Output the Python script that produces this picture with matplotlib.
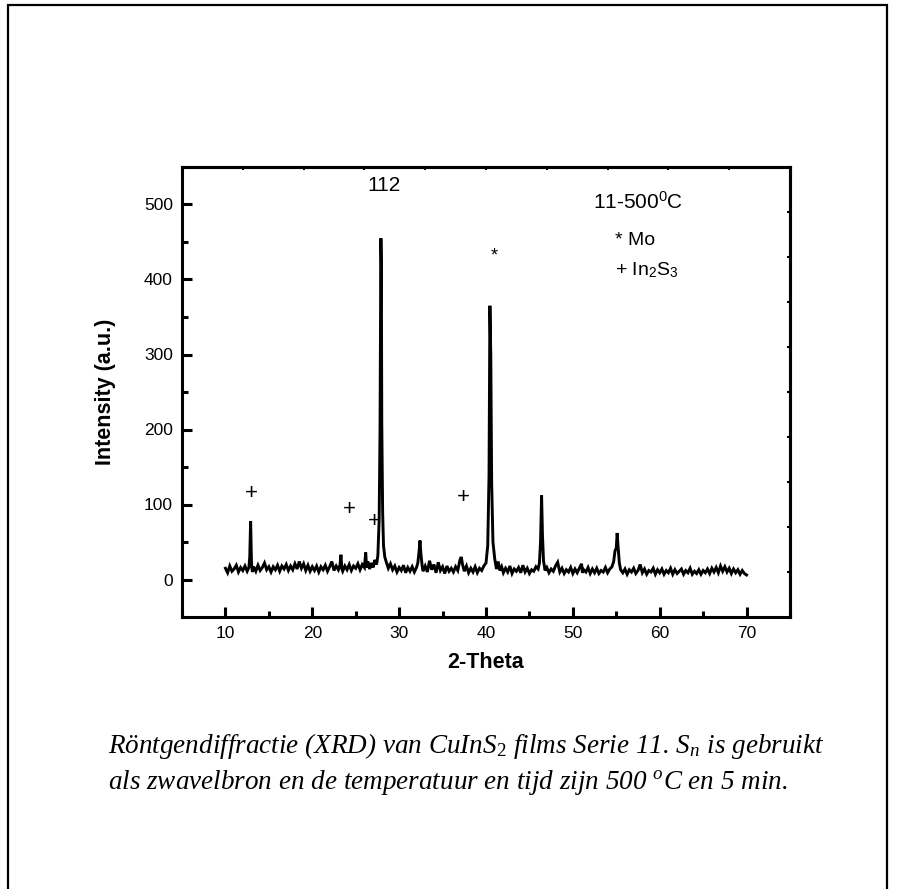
import matplotlib
matplotlib.use("Agg")
import matplotlib.pyplot as plt
import matplotlib.patches as mpatches
from matplotlib.ticker import MultipleLocator

plt.rcParams['font.family'] = ['Liberation Sans', 'DejaVu Sans']
plt.rcParams['mathtext.fontset'] = 'custom'
plt.rcParams['mathtext.it'] = 'Liberation Serif:italic'
plt.rcParams['mathtext.rm'] = 'Liberation Serif'
plt.rcParams['mathtext.sf'] = 'Liberation Sans'

# XRD scan (2-theta in degrees, intensity in a.u.)
two_theta = [
    10.0, 10.25, 10.5, 10.75, 11.0, 11.25, 11.5, 11.75, 12.0, 12.25, 12.5,
    12.7, 12.8, 12.9, 13.0, 13.1,
    13.25, 13.5, 13.75, 14.0, 14.25, 14.5, 14.75, 15.0,
    15.25, 15.5, 15.75, 16.0, 16.25, 16.5, 16.75, 17.0, 17.25, 17.5,
    17.75, 18.0, 18.25, 18.5, 18.75, 19.0, 19.25, 19.5, 19.75, 20.0,
    20.25, 20.5, 20.75, 21.0, 21.25, 21.5, 21.75, 22.0, 22.25, 22.5, 22.75, 23.0,
    23.2, 23.3, 23.4,
    23.5, 23.75, 24.0, 24.25, 24.5, 24.75, 25.0, 25.25, 25.5, 25.75, 26.0,
    26.15, 26.25, 26.4,
    26.6, 26.8, 27.0, 27.2, 27.4,
    27.55, 27.7, 27.8, 27.9, 27.95, 28.0, 28.1, 28.2, 28.35,
    28.5, 28.75, 29.0, 29.25, 29.5, 29.75, 30.0, 30.25, 30.5, 30.75,
    31.0, 31.25, 31.5, 31.75, 32.0,
    32.15, 32.3, 32.4, 32.5, 32.65,
    32.75, 33.0, 33.25, 33.5, 33.75, 34.0, 34.25, 34.5, 34.75, 35.0,
    35.25, 35.5, 35.75, 36.0, 36.25, 36.5, 36.75,
    37.0, 37.15, 37.3,
    37.5, 37.75, 38.0, 38.25, 38.5, 38.75, 39.0, 39.25, 39.5, 39.75,
    40.0, 40.2, 40.35, 40.45, 40.55, 40.65, 40.8, 41.0, 41.2, 41.4,
    41.6, 41.8, 42.0, 42.25, 42.5, 42.75, 43.0, 43.25, 43.5, 43.75,
    44.0, 44.25, 44.5, 44.75, 45.0, 45.25, 45.5, 45.75, 46.0,
    46.15, 46.28, 46.4, 46.5, 46.62, 46.8,
    47.0, 47.25, 47.5, 47.75, 48.0, 48.25, 48.5, 48.75, 49.0, 49.25,
    49.5, 49.75, 50.0, 50.25, 50.5, 50.75, 51.0, 51.1, 51.25, 51.5,
    51.75, 52.0, 52.25, 52.5, 52.75, 53.0, 53.25, 53.5, 53.75, 54.0,
    54.25, 54.5,
    54.7, 54.85, 55.0, 55.1, 55.2, 55.35, 55.5,
    55.75, 56.0, 56.25, 56.5, 56.75, 57.0, 57.25, 57.5, 57.75, 58.0,
    58.25, 58.5, 58.75, 59.0, 59.25, 59.5, 59.75, 60.0,
    60.25, 60.5, 60.75, 61.0, 61.25, 61.5, 61.75, 62.0, 62.25, 62.5,
    62.75, 63.0, 63.25, 63.5, 63.75, 64.0, 64.25, 64.5, 64.75, 65.0,
    65.25, 65.5, 65.75, 66.0, 66.25, 66.5, 66.75, 67.0, 67.25, 67.5,
    67.75, 68.0, 68.25, 68.5, 68.75, 69.0, 69.25, 69.5, 69.75, 70.0,
]
intensity = [
    15, 9, 18, 11, 14, 19, 10, 16, 12, 18, 11,
    16, 30, 78, 22, 10,
    17, 11, 19, 12, 16, 22, 13, 17,
    10, 17, 13, 19, 11, 18, 14, 20, 12, 18,
    13, 21, 14, 24, 15, 21, 12, 19, 11, 17,
    12, 18, 10, 17, 13, 19, 11, 17, 24, 12, 18, 13,
    20, 33, 14,
    11, 18, 13, 20, 12, 18, 15, 21, 13, 20, 16,
    36, 16, 24,
    14, 22, 16, 26, 20,
    32, 80, 200, 455, 420, 210, 90, 45, 30,
    24, 15, 21, 13, 18, 10, 16, 12, 19, 9,
    16, 11, 17, 10, 16,
    22, 38, 52, 35, 18,
    11, 18, 10, 25, 13, 20, 9, 23, 12, 17,
    8, 18, 11, 15, 10, 17, 12,
    26, 30, 20,
    11, 18, 9, 15, 10, 17, 9, 15, 12, 18,
    22, 45, 140, 365, 300, 130, 50, 28, 14, 24,
    12, 17, 9, 15, 10, 18, 8, 14, 11, 16,
    9, 19, 10, 15, 8, 13, 11, 17, 14,
    22, 50, 112, 60, 25, 12,
    16, 9, 14, 11, 18, 23, 10, 15, 8, 13,
    10, 16, 8, 14, 9, 15, 21, 9, 13, 10,
    16, 8, 14, 9, 15, 8, 12, 10, 16, 9,
    14, 17,
    24, 38, 42, 62, 45, 22, 13,
    9, 14, 7, 13, 10, 15, 8, 12, 20, 9,
    14, 7, 12, 10, 15, 7, 13, 9,
    14, 7, 12, 9, 15, 7, 13, 8, 11, 14,
    7, 12, 9, 15, 7, 11, 8, 13, 7, 12,
    9, 14, 8, 15, 10, 16, 9, 18, 11, 17,
    10, 15, 8, 14, 9, 13, 7, 12, 8, 6,
]

# In2S3 reflections marked with "+"
plus_x = [13.0, 24.3, 27.1, 37.4]
plus_y = [115, 93, 77, 109]

fig = plt.figure(figsize=(9.09, 8.89), dpi=100)
ax = fig.add_axes([182 / 909, 1 - 617 / 889, 608 / 909, 450 / 889])

ax.plot(two_theta, intensity, color="black", lw=2.1, solid_joinstyle="miter")

ax.set_xlim(5, 75)
ax.set_ylim(-50, 550)
ax.xaxis.set_major_locator(MultipleLocator(10))
ax.xaxis.set_minor_locator(MultipleLocator(5))
ax.yaxis.set_major_locator(MultipleLocator(100))
ax.yaxis.set_minor_locator(MultipleLocator(50))
ax.tick_params(which="major", direction="in", length=7, width=2.2,
               labelsize=12.5, pad=6.5)
ax.tick_params(which="minor", direction="in", length=4.3, width=2.2)
for s in ax.spines.values():
    s.set_linewidth(2.2)

# small inner ticks on the top and right frame
top = ax.secondary_xaxis("top")
top.set_xticks([12, 19, 26, 33, 40, 47, 54, 61, 68])
top.tick_params(direction="in", length=2.5, width=1.5, labeltop=False)
right = ax.secondary_yaxis("right")
right.set_yticks([10, 70, 130, 190, 250, 310, 370, 430, 490])
right.tick_params(direction="in", length=2.5, width=1.5, labelright=False)
for sec in (top, right):
    for s in sec.spines.values():
        s.set_linewidth(2.2)

ax.set_xlabel("2-Theta", fontsize=15.5, fontweight="bold", labelpad=8)
ax.set_ylabel("Intensity (a.u.)", fontsize=15.5, fontweight="bold", labelpad=20)

ax.text(28.3, 525, "112", fontsize=15, ha="center", va="center")
ax.text(41.0, 432, "*", fontsize=13, ha="center", va="center")
for px, py in zip(plus_x, plus_y):
    ax.text(px, py, "+", fontsize=16, ha="center", va="center")
ax.text(52.3, 503, r"11-500$^\mathsf{0}$C", fontsize=15, ha="left", va="center")
ax.text(54.9, 452, "* Mo", fontsize=14, ha="left", va="center")
ax.text(54.9, 413, r"+ In$_\mathsf{2}$S$_\mathsf{3}$", fontsize=14,
        ha="left", va="center")

caption = ("Röntgendiffractie (XRD) van CuInS$_2$ films Serie 11. S$_n$ is gebruikt\n"
           "als zwavelbron en de temperatuur en tijd zijn 500 $^o$C en 5 min.")
fig.text(108 / 909, 1 - 764 / 889, caption, fontsize=19.5, family="Liberation Serif",
         style="italic", ha="left", va="center", linespacing=1.3)

# page frame around the figure
frame = mpatches.Rectangle((8 / 909, -0.05), 879 / 909, 1.05 - 5 / 889,
                           transform=fig.transFigure, fill=False,
                           edgecolor="black", lw=1.6, clip_on=False)
fig.patches.append(frame)

fig.savefig("out.png", dpi=100)
